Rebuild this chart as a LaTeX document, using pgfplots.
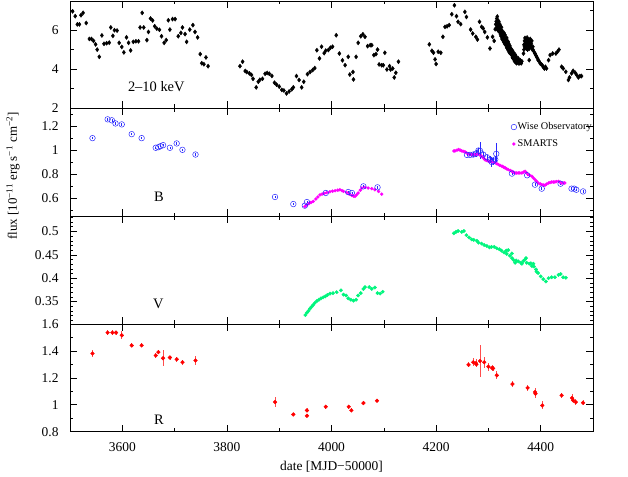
\documentclass[border=0pt]{standalone}
\usepackage{fontspec}
\setmainfont{Liberation Serif}
\usepackage{pgfplots}
\pgfplotsset{compat=1.18}

\definecolor{wise}{RGB}{40,40,255}
\definecolor{smarts}{RGB}{255,0,255}
\definecolor{vgreen}{RGB}{0,245,125}
\definecolor{rred}{RGB}{255,0,0}

\newcommand{\tickfont}{\fontsize{13.5}{16}\selectfont}
\newcommand{\labfont}{\fontsize{14.5}{17}\selectfont}

\pgfplotsset{
  panel/.style={
    scale only axis, width=523bp,
    xmin=3500, xmax=4500,
    anchor=south west,
    xtick={3600,3800,4000,4200,4400},
    minor xtick={3700,3900,4100,4300},
    xticklabels={},
    major tick length=7bp, minor tick length=3.5bp,
    tick style={black, line width=0.6bp},
    axis line style={line width=0.8bp},
    /pgf/number format/assume math mode=true,
    tick label style={font=\tickfont},
    yticklabel style={xshift=-8bp},
  },
}

% 2-10 keV
\pgfplotstableread{
x y
3505 6.97
3510 6.72
3514 6.30
3518 6.30
3521 6.77
3525 6.89
3531 6.37
3537 5.55
3541 5.55
3545 5.45
3549 5.27
3552 5.00
3556 4.63
3561 5.73
3565 5.30
3570 5.33
3575 5.36
3578 6.14
3582 5.71
3585 6.00
3590 5.98
3594 5.35
3599 5.14
3603 4.86
3608 5.63
3612 5.35
3616 4.96
3621 5.40
3626 5.43
3631 5.43
3634 6.14
3638 6.89
3641 6.14
3647 5.49
3650 5.91
3654 6.60
3658 6.50
3662 6.20
3666 6.08
3671 6.02
3675 5.69
3680 5.35
3684 5.49
3688 6.51
3691 6.03
3696 6.57
3701 6.57
3707 5.69
3712 5.86
3715 6.14
3720 5.80
3723 5.40
3729 6.03
3735 6.26
3739 5.91
3744 5.63
3749 4.77
3752 4.30
3756 4.25
3760 4.60
3764 4.15
3825 4.15
3830 4.38
3835 3.90
3838 3.85
3843 3.78
3847 3.70
3850 3.50
3856 3.06
3860 3.35
3863 3.45
3868 3.50
3873 3.76
3877 3.80
3881 3.76
3886 3.65
3891 3.30
3895 3.20
3900 3.10
3905 2.93
3909 2.90
3914 2.75
3919 2.85
3924 2.96
3927 3.06
3933 3.64
3938 3.44
3943 3.06
3947 3.35
3954 3.74
3959 3.85
3964 3.95
3968 4.05
3972 4.97
3977 4.55
3981 5.15
3986 4.82
3989 4.95
3994 4.98
3998 5.10
4002 5.15
4009 5.74
4015 4.80
4021 4.45
4026 4.20
4032 4.63
4035 3.72
4041 3.85
4042 3.47
4047 4.63
4051 5.35
4056 5.69
4060 5.79
4064 5.66
4069 5.18
4074 5.23
4077 5.23
4081 4.72
4085 4.77
4088 5.00
4091 4.24
4096 4.20
4099 4.20
4102 4.84
4106 3.98
4111 4.15
4113 3.98
4117 4.03
4120 3.57
4123 3.81
4128 4.38
4187 5.27
4192 4.94
4195 4.84
4198 4.50
4200 4.26
4204 4.89
4209 4.84
4213 5.66
4217 6.17
4221 6.20
4225 6.26
4230 6.82
4235 7.28
4239 6.72
4242 6.43
4247 6.31
4255 6.94
4258 6.68
4266 6.03
4270 5.83
4276 5.66
4279 5.52
4283 6.43
4287 6.17
4290 6.09
4293 5.91
4298 5.63
4303 5.06
4308 5.66
4311 5.45
4313 6.05
4314 6.30
4315 6.45
4315 6.10
4316 6.60
4316 6.35
4317 6.70
4317 6.20
4318 6.50
4318 6.00
4319 6.35
4319 6.15
4320 6.45
4320 5.95
4321 6.25
4321 6.05
4322 5.90
4322 6.30
4323 6.10
4323 5.80
4324 6.00
4324 5.70
4325 5.90
4325 6.15
4326 5.75
4326 5.55
4327 5.95
4327 5.65
4328 5.80
4328 5.50
4329 5.70
4329 5.40
4330 5.85
4330 5.55
4331 5.60
4331 5.30
4332 5.50
4332 5.75
4333 5.35
4333 5.55
4334 5.20
4334 5.45
4335 5.60
4335 5.10
4336 5.30
4336 5.45
4337 5.05
4337 5.25
4338 5.40
4338 4.95
4339 5.15
4339 5.30
4340 5.00
4340 4.85
4341 5.20
4341 4.95
4342 5.10
4342 4.80
4343 4.90
4343 5.05
4344 4.75
4344 4.95
4345 4.70
4345 4.85
4346 4.95
4346 4.60
4347 4.75
4347 4.55
4348 4.85
4348 4.65
4349 4.50
4349 4.70
4350 4.60
4350 4.40
4351 4.75
4351 4.45
4352 4.55
4352 4.35
4353 4.65
4353 4.40
4354 4.30
4354 4.50
4355 4.45
4356 4.35
4357 4.55
4358 4.30
4359 4.40
4360 4.30
4361 4.45
4362 4.35
4363 4.30
4364 4.40
4367 4.80
4368 5.25
4368 5.00
4369 5.45
4369 5.15
4370 5.60
4370 5.30
4371 5.40
4371 5.10
4372 5.55
4372 5.20
4373 5.35
4373 5.05
4374 5.62
4374 5.25
4375 5.45
4375 5.00
4376 5.30
4377 5.50
4377 5.15
4378 4.46
4378 5.05
4379 5.35
4380 5.55
4380 5.20
4381 5.40
4382 5.10
4382 5.30
4383 5.45
4384 5.00
4385 5.15
4386 4.97
4388 4.85
4389 4.80
4391 4.70
4392 4.63
4394 4.55
4395 4.46
4397 4.40
4399 4.29
4401 4.25
4403 4.20
4405 4.10
4407 4.03
4409 4.12
4411 4.03
4415 4.46
4418 4.72
4423 4.80
4429 4.80
4432 4.89
4435 5.00
4440 4.12
4443 4.03
4448 3.86
4453 3.44
4455 3.57
4459 3.78
4462 3.91
4466 3.81
4469 3.69
4472 3.57
4475 3.64
4478 3.64
}\xray

% B band, Wise Observatory
\pgfplotstableread{
x y e
3543 1.100 0.01
3572 1.256 0.01
3580 1.248 0.01
3587 1.222 0.01
3599 1.214 0.01
3618 1.133 0.01
3637 1.100 0.01
3664 1.020 0.01
3669 1.025 0.01
3673 1.033 0.01
3678 1.042 0.01
3691 1.020 0.01
3704 1.056 0.01
3715 1.003 0.01
3740 0.964 0.01
3892 0.612 0.01
3927 0.553 0.01
3949 0.540 0.01
3953 0.570 0.01
3989 0.645 0.01
4032 0.653 0.01
4039 0.645 0.01
4061 0.700 0.01
4088 0.692 0.01
4259 0.961 0.01
4265 0.961 0.01
4271 0.964 0.02
4276 0.970 0.03
4281 0.997 0.02
4284 0.994 0.07
4290 0.964 0.02
4297 0.942 0.02
4303 0.923 0.03
4306 0.903 0.04
4309 0.909 0.03
4313 0.923 0.03
4315 0.970 0.09
4345 0.806 0.01
4374 0.792 0.01
4389 0.714 0.01
4402 0.681 0.01
4438 0.722 0.01
4459 0.681 0.01
4464 0.681 0.01
4468 0.672 0.01
4481 0.658 0.01
}\bwise

% B band, SMARTS
\pgfplotstableread{
x y
3949 0.533
3953 0.545
3957 0.558
3961 0.567
3965 0.575
3970 0.595
3974 0.612
3978 0.630
3982 0.636
3986 0.642
3991 0.648
3997 0.655
4002 0.660
4007 0.664
4012 0.668
4016 0.672
4020 0.665
4023 0.658
4029 0.648
4034 0.636
4039 0.625
4042 0.620
4045 0.617
4048 0.630
4051 0.645
4055 0.668
4058 0.686
4064 0.692
4070 0.686
4077 0.681
4083 0.672
4090 0.658
4096 0.636
4234 0.994
4236 0.994
4240 1.000
4243 1.006
4246 1.000
4249 0.994
4252 0.990
4255 0.987
4258 0.978
4262 0.970
4265 0.967
4268 0.964
4271 0.964
4274 0.964
4278 0.967
4281 0.970
4284 0.960
4287 0.950
4290 0.937
4293 0.923
4296 0.915
4300 0.909
4303 0.905
4306 0.903
4310 0.899
4313 0.895
4316 0.888
4319 0.881
4322 0.874
4326 0.867
4329 0.860
4332 0.853
4335 0.846
4338 0.839
4342 0.832
4345 0.825
4348 0.818
4351 0.811
4354 0.811
4357 0.811
4360 0.811
4364 0.811
4367 0.818
4370 0.825
4373 0.812
4376 0.798
4379 0.792
4383 0.784
4386 0.770
4389 0.756
4392 0.742
4395 0.728
4399 0.720
4402 0.714
4405 0.711
4408 0.709
4411 0.718
4415 0.728
4418 0.732
4421 0.736
4424 0.736
4427 0.736
4430 0.740
4434 0.742
4437 0.735
4440 0.728
4443 0.728
4446 0.728
}\bsmarts

% V band
\pgfplotstableread{
x y
3950 0.321
3953 0.326
3956 0.330
3959 0.335
3962 0.339
3965 0.343
3968 0.347
3972 0.351
3976 0.354
3980 0.357
3984 0.359
3988 0.361
3992 0.364
3997 0.367
4003 0.368
4010 0.370
4018 0.374
4023 0.365
4028 0.363
4032 0.357
4037 0.354
4042 0.352
4047 0.354
4051 0.363
4056 0.368
4061 0.377
4064 0.381
4072 0.381
4077 0.377
4083 0.380
4088 0.368
4093 0.367
4098 0.371
4234 0.496
4238 0.499
4242 0.501
4249 0.499
4253 0.501
4258 0.492
4263 0.487
4268 0.483
4272 0.482
4278 0.480
4281 0.476
4287 0.474
4292 0.471
4297 0.469
4302 0.466
4306 0.467
4311 0.467
4316 0.464
4321 0.462
4325 0.459
4330 0.455
4334 0.459
4335 0.452
4338 0.460
4341 0.448
4345 0.443
4345 0.453
4348 0.439
4351 0.433
4353 0.438
4357 0.436
4362 0.433
4364 0.431
4367 0.437
4370 0.440
4372 0.443
4373 0.433
4378 0.431
4381 0.432
4383 0.426
4386 0.431
4387 0.425
4391 0.419
4392 0.414
4395 0.411
4400 0.404
4405 0.398
4410 0.393
4415 0.400
4421 0.402
4427 0.402
4434 0.407
4438 0.409
4443 0.402
4448 0.401
}\vband

% R band
\pgfplotstableread{
x y e
3543 1.381 0.025
3572 1.536 0.020
3581 1.536 0.020
3588 1.536 0.015
3599 1.516 0.030
3618 1.441 0.015
3637 1.441 0.015
3664 1.366 0.015
3669 1.391 0.015
3678 1.346 0.060
3691 1.351 0.015
3704 1.338 0.020
3715 1.316 0.020
3740 1.329 0.030
3892 1.020 0.040
3927 0.928 0.012
3953 0.958 0.015
3953 0.918 0.012
3989 0.985 0.015
4033 0.985 0.015
4038 0.958 0.015
4061 1.013 0.015
4087 1.030 0.012
4262 1.297 0.020
4271 1.316 0.030
4276 1.309 0.030
4277 1.300 0.020
4284 1.325 0.120
4292 1.316 0.040
4300 1.283 0.030
4307 1.274 0.020
4309 1.270 0.020
4316 1.219 0.030
4346 1.154 0.020
4375 1.126 0.020
4389 1.095 0.030
4390 1.083 0.030
4403 0.995 0.030
4440 1.070 0.020
4460 1.050 0.030
4462 1.033 0.020
4467 1.020 0.020
4481 1.015 0.020
}\rband

\begin{document}
\begin{tikzpicture}
\path[use as bounding box] (0bp,0bp) rectangle (628bp,477bp);

% panel 1: X-rays
\begin{axis}[panel, at={(70bp,369bp)}, height=107bp,
    ymin=2, ymax=7.5, ytick={2,4,6}, minor ytick={3,5,7}]
\addplot[only marks, mark=diamond*, mark size=2.1bp, black] table[x=x,y=y] {\xray};
\node[font=\labfont] at (axis cs:3665,3.11) {2--10 keV};
\end{axis}

% panel 2: B
\begin{axis}[panel, at={(70bp,260.5bp)}, height=108.5bp,
    ymin=0.45, ymax=1.35, ytick={0.6,0.8,1,1.2}, minor ytick={0.5,0.7,0.9,1.1,1.3},
    reverse legend,
    legend image code/.code={\draw[mark repeat=2,mark phase=2,#1] plot coordinates {(0bp,0bp) (2.8bp,0bp) (5.6bp,0bp)};},
    legend style={draw=none, fill=none, at={(0.843,0.875)}, anchor=north west,
      font=\fontsize{10.3}{12}\selectfont, inner sep=0pt, row sep=6.5bp,
      nodes={inner sep=1pt}},
    legend cell align=left]
\addplot[only marks, mark=*, mark size=1.5bp, smarts] table[x=x,y=y] {\bsmarts};
\addlegendentry{SMARTS}
\addplot[only marks, mark=o, mark size=2.8bp, wise, line width=0.5bp,
    error bars/.cd, y dir=both, y explicit, error mark=none,
    error bar style={line width=0.6bp, wise}]
    table[x=x,y=y,y error=e] {\bwise};
\addlegendentry{Wise Observatory}
\node[font=\labfont] at (axis cs:3670,0.612) {B};
\end{axis}

% panel 3: V
\begin{axis}[panel, at={(70bp,153bp)}, height=107.5bp,
    ymin=0.302, ymax=0.532, ytick={0.35,0.4,0.45,0.5},
    minor ytick={0.31,0.32,0.33,0.34,0.36,0.37,0.38,0.39,0.41,0.42,0.43,0.44,0.46,0.47,0.48,0.49,0.51,0.52,0.53}]
\addplot[only marks, mark=*, mark size=1.7bp, vgreen] table[x=x,y=y] {\vband};
\node[font=\labfont] at (axis cs:3669,0.346) {V};
\end{axis}

% panel 4: R
\begin{axis}[panel, at={(70bp,45.3bp)}, height=107.7bp,
    ymin=0.8, ymax=1.6, ytick={0.8,1,1.2,1.4,1.6}, minor ytick={0.9,1.1,1.3,1.5},
    xticklabels={3600,3800,4000,4200,4400},
    xticklabel style={yshift=-7bp},
    xlabel={date [MJD−50000]},
    xlabel style={font=\tickfont, yshift=-3bp}]
\addplot[only marks, mark=*, mark size=1.9bp, rred,
    error bars/.cd, y dir=both, y explicit, error mark=none,
    error bar style={line width=0.7bp, rred!70}]
    table[x=x,y=y,y error=e] {\rband};
\node[font=\labfont] at (axis cs:3670,0.885) {R};
\end{axis}

\node[rotate=90, font=\fontsize{13}{15}\selectfont] at (13bp,301bp)
  {flux [10\textsuperscript{−11} erg s\textsuperscript{−1} cm\textsuperscript{−2}]};
\end{tikzpicture}
\end{document}
